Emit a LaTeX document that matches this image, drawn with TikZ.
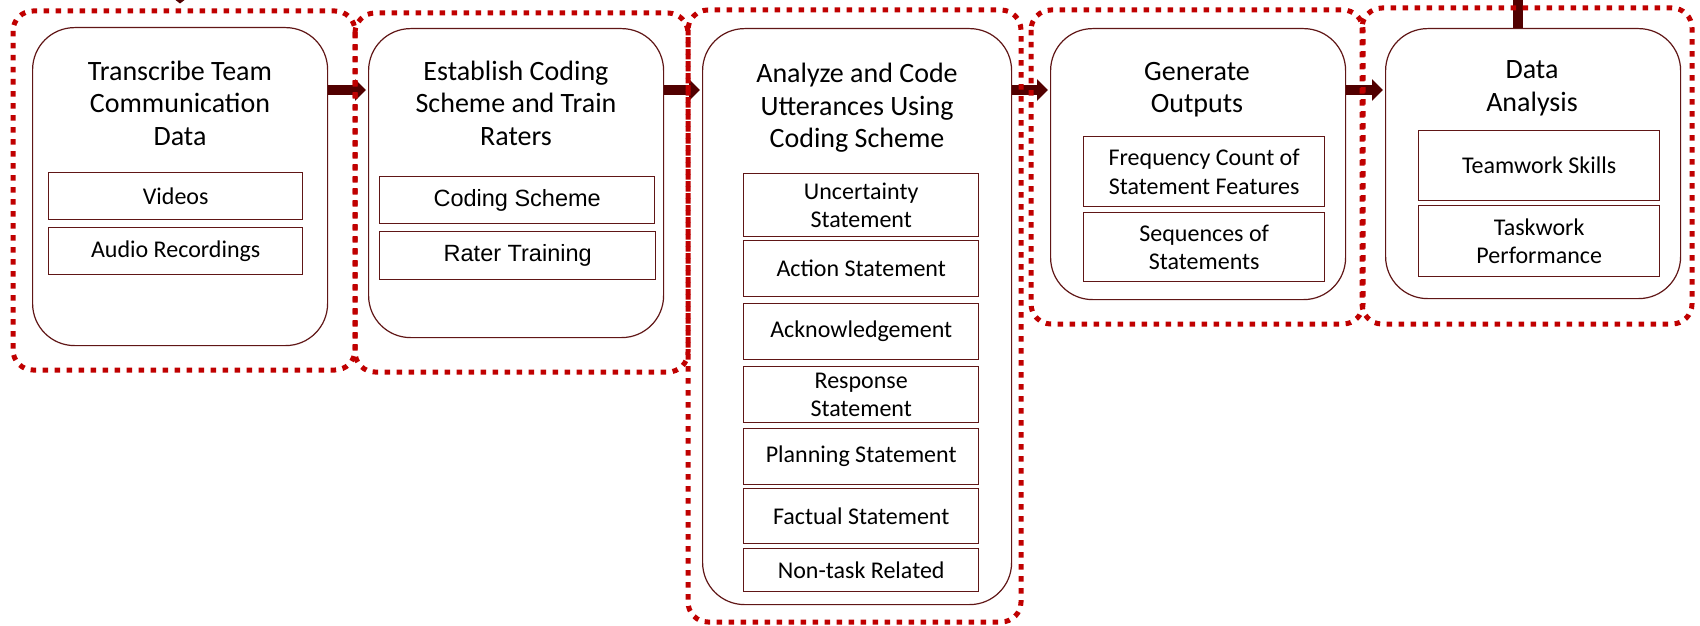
\documentclass[tikz,border=0pt]{standalone}
\usepackage{fontspec}
\setmainfont{Carlito}
\newfontfamily\arialf{Liberation Sans}
\usetikzlibrary{arrows.meta}

\definecolor{maroon}{RGB}{96,22,22}
\definecolor{arrowred}{RGB}{82,0,0}
\definecolor{groupred}{RGB}{192,0,0}

\tikzset{
  stage/.style={draw=maroon, line width=1.2pt, fill=white, rounded corners=42pt,
    anchor=north west, inner sep=0pt},
  item/.style={draw=maroon, line width=1.4pt, fill=white, anchor=north west,
    inner sep=0pt, align=center, font=\fontsize{24}{28.5}\selectfont},
  itemsans/.style={item, font=\arialf\fontsize{23.5}{28}\selectfont},
  heading/.style={align=center, font=\fontsize{28}{32.5}\selectfont, inner sep=0pt},
  flow/.style={draw=arrowred, line width=10pt,
    -{Triangle[width=21pt,length=11pt]}, shorten >=2pt},
  group/.style={draw=groupred, line width=5pt, dash pattern=on 5.5pt off 6.5pt,
    rounded corners=20pt}
}

\newcommand{\boxat}[5]{% name, x1, y1, x2, y2
  \node[stage, minimum width={#4-#2}, minimum height={#5-#3}] (#1) at (#2,#3) {};}
\newcommand{\itemat}[7]{% style, name, x1, y1, x2, y2, text
  \node[#1, minimum width={#5-#3}, minimum height={#6-#4}] (#2) at (#3,#4) {#7};}

\begin{document}
\begin{tikzpicture}[x=1pt,y=-1pt]
\useasboundingbox[fill=white] (0,0) rectangle (1700,626);

% stage boxes
\boxat{b1}{32}{27}{327}{345}
\boxat{b2}{368}{28}{663}{337}
\boxat{b3}{702}{28}{1011}{604}
\boxat{b4}{1050}{28}{1345}{299}
\boxat{b5}{1385}{28}{1680}{298}

% stage headings
\node[heading] (h1) at (180,103) {Transcribe Team\\Communication\\Data};
\node[heading] (h2) at (516,103) {Establish Coding\\Scheme and Train\\Raters};
\node[heading] (h3) at (857,108) {Analyze and Code\\Utterances Using\\Coding Scheme};
\node[heading] (h4) at (1197,89.5) {Generate\\Outputs};
\node[heading] (h5) at (1532,88.5) {Data\\Analysis};

% stage 1 items
\itemat{item}{v1}{48}{172}{302}{219}{Videos}
\itemat{item}{v2}{48}{227}{302}{274}{Audio Recordings}

% stage 2 items
\itemat{itemsans}{c1}{379}{176}{654}{223}{Coding Scheme}
\itemat{itemsans}{c2}{379}{231}{655}{279}{Rater Training}

% stage 3 items
\itemat{item}{u1}{743}{173}{978}{236}{Uncertainty\\Statement}
\itemat{item}{u2}{743}{240}{978}{296}{Action Statement}
\itemat{item}{u3}{743}{303}{978}{359}{Acknowledgement}
\itemat{item}{u4}{743}{366}{978}{422}{Response\\Statement}
\itemat{item}{u5}{743}{428}{978}{484}{Planning Statement}
\itemat{item}{u6}{743}{488}{978}{543}{Factual Statement}
\itemat{item}{u7}{743}{548}{978}{591}{Non-task Related}

% stage 4 items
\itemat{item}{o1}{1083}{136}{1324}{206}{Frequency Count of\\Statement Features}
\itemat{item}{o2}{1083}{212}{1324}{281}{Sequences of\\Statements}

% stage 5 items
\itemat{item}{a1}{1418}{130}{1659}{200}{Teamwork Skills}
\itemat{item}{a2}{1418}{205}{1659}{276}{Taskwork\\Performance}

% connectors between stages
\coordinate (row) at (0,90);
\draw[flow] (b1.east |- row) -- (b2.west |- row);
\draw[flow] (b2.east |- row) -- (b3.west |- row);
\draw[flow] (b3.east |- row) -- (b4.west |- row);
\draw[flow] (b4.east |- row) -- (b5.west |- row);

% incoming link from above into the last stage
\coordinate (feed) at (1518,0);
\draw[draw=arrowred, line width=10pt] (feed) -- (feed |- b5.north);

% small tip at the top edge
\coordinate (tipl) at (175.5,0);
\coordinate (tipc) at (180,3.5);
\coordinate (tipr) at (184.5,0);
\fill[arrowred] (tipl) -- (tipc) -- (tipr) -- cycle;

% dotted phase groups
\draw[group] (13,11) rectangle (355,370);
\draw[group] (355,13) rectangle (688,372);
\draw[group] (688,10) rectangle (1021,622);
\draw[group] (1031,10) rectangle (1363,324);
\draw[group] (1362,8) rectangle (1692,324);
\end{tikzpicture}
\end{document}
